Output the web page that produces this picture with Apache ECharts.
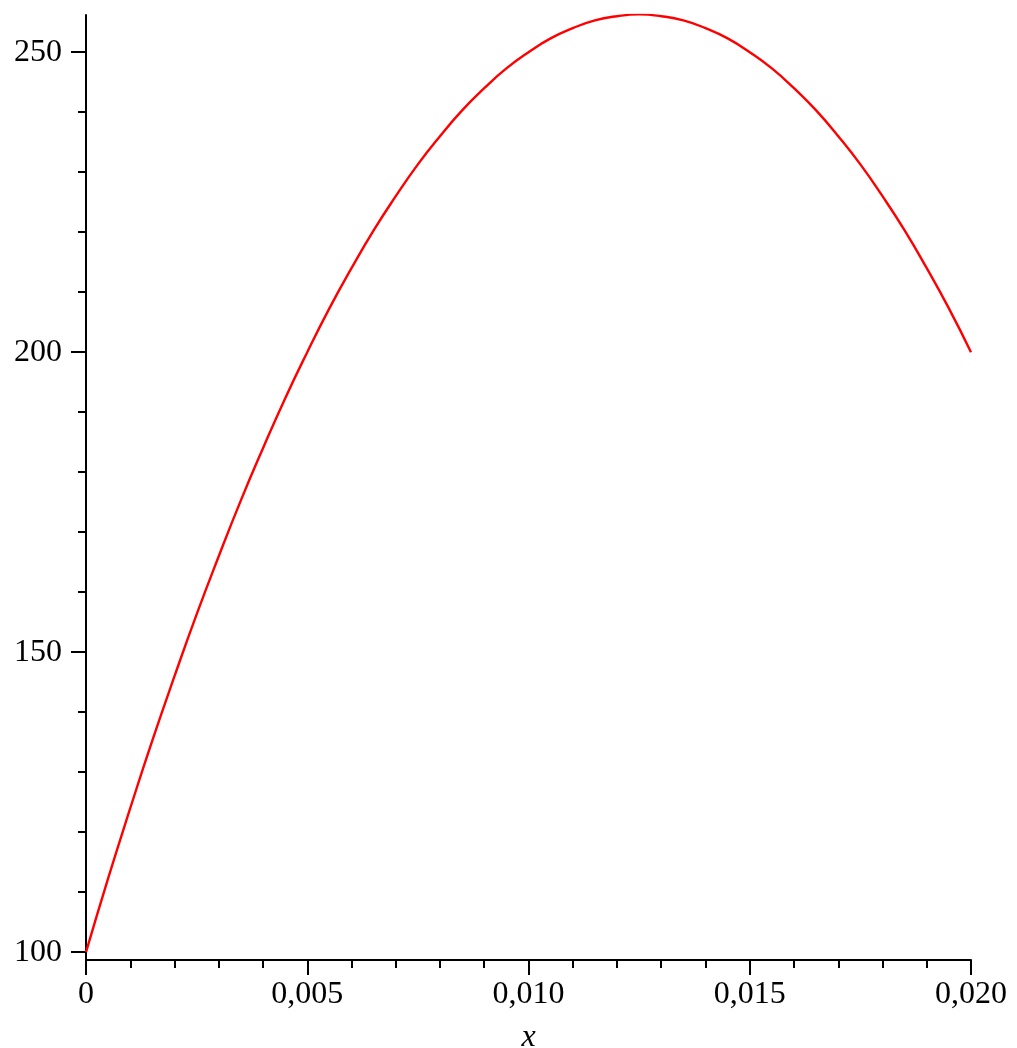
<!DOCTYPE html>
<html>
<head>
<meta charset="utf-8">
<script src="https://cdn.jsdelivr.net/npm/echarts@6/dist/echarts.min.js"></script>
<style>
  html, body { margin: 0; padding: 0; background: #fff; }
</style>
</head>
<body>
<div id="plot" style="width: 1017px; height: 1048px;"></div>
<script>
// values
const xs = [0, 0.0005, 0.001, 0.0015, 0.002, 0.0025, 0.003, 0.0035, 0.004, 0.0045, 0.005,
  0.0055, 0.006, 0.0065, 0.007, 0.0075, 0.008, 0.0085, 0.009, 0.0095, 0.010,
  0.0105, 0.011, 0.0115, 0.012, 0.0125, 0.013, 0.0135, 0.014, 0.0145, 0.015,
  0.0155, 0.016, 0.0165, 0.017, 0.0175, 0.018, 0.0185, 0.019, 0.0195, 0.020]
const ys = [100, 112.3, 124, 135.3, 146, 156.3, 166, 175.3, 184, 192.3, 200,
  207.3, 214, 220.3, 226, 231.3, 236, 240.3, 244, 247.3, 250,
  252.3, 254, 255.3, 256, 256.3, 256, 255.3, 254, 252.3, 250,
  247.3, 244, 240.3, 236, 231.3, 226, 220.3, 214, 207.3, 200]
const yMajorTicks = [100, 150, 200, 250]
const yMinorTicks = [110, 120, 130, 140, 160, 170, 180, 190, 210, 220, 230, 240]
const xTickLabels = { 0: '0', 0.005: '0,005', 0.01: '0,010', 0.015: '0,015', 0.02: '0,020' }

const chart = echarts.init(document.getElementById('plot'))
const font = 'Liberation Serif'

chart.setOption({
  animation: false,
  grid: { left: 86, right: 46, top: 15, bottom: 88, outerBoundsMode: 'none' },
  xAxis: {
    type: 'value',
    min: 0,
    max: 0.02,
    interval: 0.005,
    name: 'x',
    nameLocation: 'middle',
    nameGap: 62,
    nameTextStyle: { fontFamily: font, fontSize: 32, fontStyle: 'italic', color: '#000' },
    axisLine: { lineStyle: { color: '#000', width: 2 } },
    axisTick: { length: 15, lineStyle: { color: '#000', width: 2 } },
    minorTick: { show: true, splitNumber: 5, length: 8, lineStyle: { color: '#000', width: 2 } },
    splitLine: { show: false },
    axisLabel: {
      margin: 19,
      fontFamily: font,
      fontSize: 32,
      color: '#000',
      formatter: function (v) {
        const k = Math.round(v * 1000) / 1000
        return xTickLabels[k] !== undefined ? xTickLabels[k] : ''
      }
    }
  },
  yAxis: [
    {
      type: 'value',
      min: 98.7,
      max: 256.2,
      axisLine: { show: true, lineStyle: { color: '#000', width: 2 } },
      axisTick: { show: true, length: 15, customValues: yMajorTicks, lineStyle: { color: '#000', width: 2 } },
      splitLine: { show: false },
      axisLabel: {
        margin: 24,
        fontFamily: font,
        fontSize: 32,
        color: '#000',
        customValues: yMajorTicks
      }
    },
    {
      type: 'value',
      position: 'left',
      min: 98.7,
      max: 256.2,
      axisLine: { show: false },
      axisTick: { show: true, length: 8, customValues: yMinorTicks, lineStyle: { color: '#000', width: 2 } },
      splitLine: { show: false },
      axisLabel: { show: false }
    }
  ],
  series: [
    {
      type: 'line',
      data: xs.map((x, i) => [x, ys[i]]),
      smooth: true,
      symbol: 'none',
      lineStyle: { color: '#ff0000', width: 2.4 }
    }
  ]
})
</script>
</body>
</html>
